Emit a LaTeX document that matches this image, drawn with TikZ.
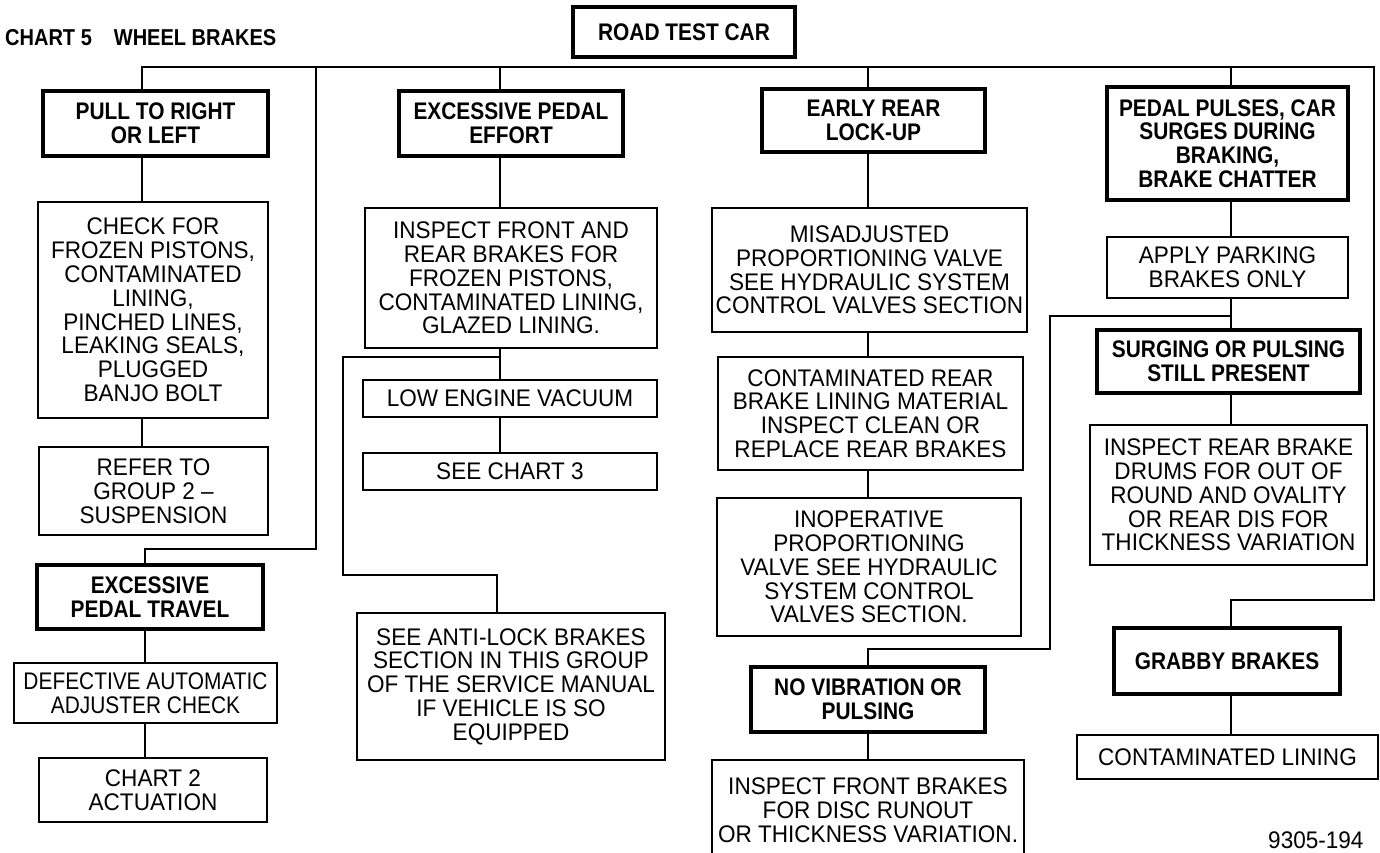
\documentclass[tikz,border=0pt]{standalone}
\usepackage{fontspec}
\setmainfont{Liberation Sans}[FakeStretch=0.94]
\newfontfamily\hdfont{Liberation Sans}[FakeStretch=0.87]
\begin{document}
\begin{tikzpicture}[x=1pt,y=-1pt,
  basebox/.style={draw, inner sep=0pt, align=center, font=\fontsize{24}{23.8}\selectfont},
  plainbox/.style={basebox, line width=2.3pt},
  headbox/.style={basebox, line width=4pt, font=\hdfont\bfseries\fontsize{24}{23.8}\selectfont},
  conn/.style={line width=2.3pt, line join=miter}]
\useasboundingbox (0,0) rectangle (1380,852);

% title
\node[anchor=west, inner sep=0pt, font=\hdfont\bfseries\fontsize{23}{24}\selectfont] (title) at (5,37.5) {CHART 5\hspace{22pt}WHEEL BRAKES};

% top
\node[headbox, minimum width=222pt, minimum height=50pt] (road) at (684,32) {ROAD TEST CAR};

% column 1
\node[headbox, minimum width=225pt, minimum height=65pt] (pull) at (155.5,123.5) {PULL TO RIGHT\\OR LEFT};
\node[plainbox, minimum width=230pt, minimum height=216pt] (check) at (153,310) {CHECK FOR\\FROZEN PISTONS,\\CONTAMINATED\\LINING,\\PINCHED LINES,\\LEAKING SEALS,\\PLUGGED\\BANJO BOLT};
\node[plainbox, minimum width=229pt, minimum height=88pt] (refer) at (153.5,491) {REFER TO\\GROUP 2 --\\SUSPENSION};
\node[headbox, minimum width=226pt, minimum height=64pt] (travel) at (150,597) {EXCESSIVE\\PEDAL TRAVEL};
\node[plainbox, minimum width=263pt, minimum height=60pt, font=\hdfont\fontsize{24}{23.8}\selectfont] (defect) at (145.5,693) {DEFECTIVE AUTOMATIC\\ADJUSTER CHECK};
\node[plainbox, minimum width=228pt, minimum height=64pt] (chart2) at (153,790) {CHART 2\\ACTUATION};

% column 2
\node[headbox, minimum width=224pt, minimum height=65pt] (effort) at (511,123.5) {EXCESSIVE PEDAL\\EFFORT};
\node[plainbox, minimum width=292pt, minimum height=140pt] (inspA) at (511,278) {INSPECT FRONT AND\\REAR BRAKES FOR\\FROZEN PISTONS,\\CONTAMINATED LINING,\\GLAZED LINING.};
\node[plainbox, minimum width=294pt, minimum height=37pt] (low) at (510,398.5) {LOW ENGINE VACUUM};
\node[plainbox, minimum width=294pt, minimum height=37pt] (chart3) at (510,471.5) {SEE CHART 3};
\node[plainbox, minimum width=308pt, minimum height=147pt] (anti) at (511,686.5) {SEE ANTI-LOCK BRAKES\\SECTION IN THIS GROUP\\OF THE SERVICE MANUAL\\IF VEHICLE IS SO\\EQUIPPED};

% column 3
\node[headbox, minimum width=223pt, minimum height=63pt] (early) at (873.5,120.5) {EARLY REAR\\LOCK-UP};
\node[plainbox, minimum width=315pt, minimum height=124pt] (misadj) at (869.5,270) {MISADJUSTED\\PROPORTIONING VALVE\\SEE HYDRAULIC SYSTEM\\CONTROL VALVES SECTION};
\node[plainbox, minimum width=305pt, minimum height=113pt] (contam) at (870.5,413.5) {CONTAMINATED REAR\\BRAKE LINING MATERIAL\\INSPECT CLEAN OR\\REPLACE REAR BRAKES};
\node[plainbox, minimum width=304pt, minimum height=138pt] (inop) at (869,567) {INOPERATIVE\\PROPORTIONING\\VALVE SEE HYDRAULIC\\SYSTEM CONTROL\\VALVES SECTION.};
\node[headbox, minimum width=234pt, minimum height=65pt] (novib) at (868,699.5) {NO VIBRATION OR\\PULSING};
\node[plainbox, minimum width=312pt, minimum height=100pt] (inspF) at (868,810) {INSPECT FRONT BRAKES\\FOR DISC RUNOUT\\OR THICKNESS VARIATION.};

% column 4
\node[headbox, minimum width=241pt, minimum height=113pt] (pulses) at (1227.5,143.5) {PEDAL PULSES, CAR\\SURGES DURING\\BRAKING,\\BRAKE CHATTER};
\node[plainbox, minimum width=241pt, minimum height=61pt] (apply) at (1227.5,267.5) {APPLY PARKING\\BRAKES ONLY};
\node[headbox, minimum width=263pt, minimum height=63pt] (surging) at (1228.5,361.5) {SURGING OR PULSING\\STILL PRESENT};
\node[plainbox, minimum width=277pt, minimum height=140pt] (inspR) at (1228.5,495) {INSPECT REAR BRAKE\\DRUMS FOR OUT OF\\ROUND AND OVALITY\\OR REAR DIS FOR\\THICKNESS VARIATION};
\node[headbox, minimum width=226pt, minimum height=66pt] (grabby) at (1227,661) {GRABBY BRAKES};
\node[plainbox, minimum width=301pt, minimum height=44pt] (contlin) at (1227.5,757) {CONTAMINATED LINING};

\node[anchor=base west, inner sep=0pt, font=\fontsize{24}{24}\selectfont] (code) at (1268,848) {9305-194};

% helper coordinates
\coordinate (bus) at (0,67);
\coordinate (cA) at (142,0);
\coordinate (cA2) at (145,0);
\coordinate (cB) at (316,0);
\coordinate (cM) at (500,0);
\coordinate (cM2) at (497,0);
\coordinate (cMb) at (343,0);
\coordinate (cE) at (868,0);
\coordinate (cQ) at (1050,0);
\coordinate (cP) at (1231,0);
\coordinate (cR) at (1374,0);
\coordinate (j549) at (0,549);
\coordinate (j357) at (0,357);
\coordinate (j575) at (0,575);
\coordinate (j316) at (0,316);
\coordinate (j649) at (0,649);
\coordinate (j600) at (0,600);

% bus
\draw[conn] (pull.north -| cA) -- (cA |- bus) -- (cR |- bus) -- (cR |- j600) -| (grabby.north -| cP);
\draw[conn] (cB |- bus) -- (cB |- j549) -| (travel.north -| cA2);
\draw[conn] (cM |- bus) -- (effort.north -| cM);
\draw[conn] (cE |- bus) -- (early.north -| cE);
\draw[conn] (cP |- bus) -- (pulses.north -| cP);

% column 1
\draw[conn] (pull.south -| cA) -- (check.north -| cA);
\draw[conn] (check.south -| cA) -- (refer.north -| cA);
\draw[conn] (travel.south -| cA2) -- (defect.north -| cA2);
\draw[conn] (defect.south -| cA2) -- (chart2.north -| cA2);

% column 2
\draw[conn] (effort.south -| cM) -- (inspA.north -| cM);
\draw[conn] (inspA.south -| cM) -- (low.north -| cM);
\draw[conn] (low.south -| cM) -- (chart3.north -| cM);
\draw[conn] (cM |- j357) -- (cMb |- j357) -- (cMb |- j575) -| (anti.north -| cM2);

% column 3
\draw[conn] (early.south -| cE) -- (misadj.north -| cE);
\draw[conn] (misadj.south -| cE) -- (contam.north -| cE);
\draw[conn] (contam.south -| cE) -- (inop.north -| cE);
\draw[conn] (novib.south -| cE) -- (inspF.north -| cE);

% column 4
\draw[conn] (pulses.south -| cP) -- (apply.north -| cP);
\draw[conn] (apply.south -| cP) -- (surging.north -| cP);
\draw[conn] (surging.south -| cP) -- (inspR.north -| cP);
\draw[conn] (grabby.south -| cP) -- (contlin.north -| cP);
\draw[conn] (cP |- j316) -- (cQ |- j316) -- (cQ |- j649) -| (novib.north -| cE);
\end{tikzpicture}
\end{document}
